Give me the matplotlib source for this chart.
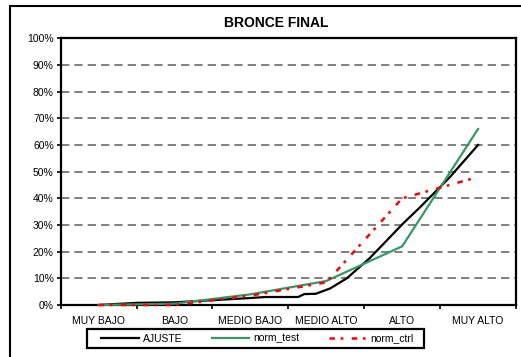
import matplotlib
matplotlib.use("Agg")
import matplotlib.pyplot as plt
from matplotlib.patches import Rectangle
from matplotlib.ticker import FixedLocator, FuncFormatter

plt.rcParams['font.family'] = ['Liberation Sans', 'DejaVu Sans']
plt.rcParams['lines.scale_dashes'] = False

# Data
categories = ["MUY BAJO", "BAJO", "MEDIO BAJO", "MEDIO ALTO", "ALTO", "MUY ALTO"]
norm_test = [0, 0.5, 4, 9, 22, 66]
norm_ctrl = [0, 0, 3.5, 8.5, 40, 48]
ajuste_pos = [0, 0.5, 1.0, 1.49, 1.99, 2.2, 2.63, 2.71, 2.86, 3.05, 3.27, 3.57,
              4.01, 4.23, 4.63, 5.0]
ajuste = [0, 0.8, 1.0, 1.8, 2.6, 3.0, 3.0, 4.1, 4.2, 6.2, 10.0, 17.5,
          30.5, 36.5, 48.0, 60.0]
y_ticks = [0, 10, 20, 30, 40, 50, 60, 70, 80, 90, 100]
title = "BRONCE FINAL"

W, H = 521, 357
fig = plt.figure(figsize=(W / 100, H / 100), dpi=100)
fig.patch.set_facecolor("white")

# outer chart frame (runs off the right and bottom edges)
fig.patches.append(Rectangle((9.5 / W, -0.2), 1.2, 1.2 - 5.5 / H,
                             transform=fig.transFigure, fill=False,
                             edgecolor="black", linewidth=1.5, zorder=0))

ax = fig.add_axes([60.7 / W, 1 - 305 / H, (516 - 60.7) / W, (305 - 38.3) / H])
cat_x = list(range(len(categories)))

ax.plot(ajuste_pos, ajuste, color="black", lw=1.6, label="AJUSTE",
        clip_on=False, zorder=5)
ax.plot(cat_x, norm_test, color="#339966", lw=1.6, label="norm_test",
        clip_on=False, zorder=6)
ax.plot(cat_x, norm_ctrl, color="#ff0000", lw=1.8, label="norm_ctrl",
        linestyle=(0, (4, 4, 2, 6)), clip_on=False, zorder=7)

ax.set_xlim(-0.5, len(categories) - 0.5)
ax.set_ylim(0, 100)

# horizontal dashed gridlines
for v in y_ticks[1:-1]:
    ax.axhline(v, color="#808080", lw=1.4, linestyle=(0, (6, 3.6)), zorder=1)

ax.yaxis.set_major_locator(FixedLocator(y_ticks))
ax.yaxis.set_major_formatter(FuncFormatter(lambda v, p: f"{int(v)}%"))
ax.tick_params(axis="y", direction="out", length=3, width=1.2, pad=2,
               labelsize=7.5)

ax.xaxis.set_major_locator(FixedLocator([i - 0.5 for i in range(len(categories) + 1)]))
ax.xaxis.set_major_formatter(FuncFormatter(lambda v, p: ""))
ax.xaxis.set_minor_locator(FixedLocator(cat_x))
ax.set_xticklabels(categories, minor=True)
ax.tick_params(axis="x", which="major", direction="out", length=3, width=1.2)
ax.tick_params(axis="x", which="minor", length=0, pad=8, labelsize=7.5)

for s in ax.spines.values():
    s.set_linewidth(1.6)
    s.set_color("black")

fig.text(276 / W, 1 - 23 / H, title, ha="center", va="center",
         fontsize=10, fontweight="bold")

# legend box with its entries spread inside
fig.patches.append(Rectangle((87 / W, 1 - 348 / H), 337 / W, 19 / H,
                             transform=fig.transFigure, fill=False,
                             edgecolor="black", linewidth=1.6, zorder=3))
leg = fig.legend(loc="center", ncol=3, mode="expand",
                 bbox_to_anchor=(101 / W, 1 - 348 / H, 313 / W, 19 / H),
                 fontsize=7.5, frameon=False, handlelength=3.6,
                 handletextpad=0.4, borderpad=0.0, borderaxespad=0)

fig.savefig("out.png", dpi=100, facecolor="white")
